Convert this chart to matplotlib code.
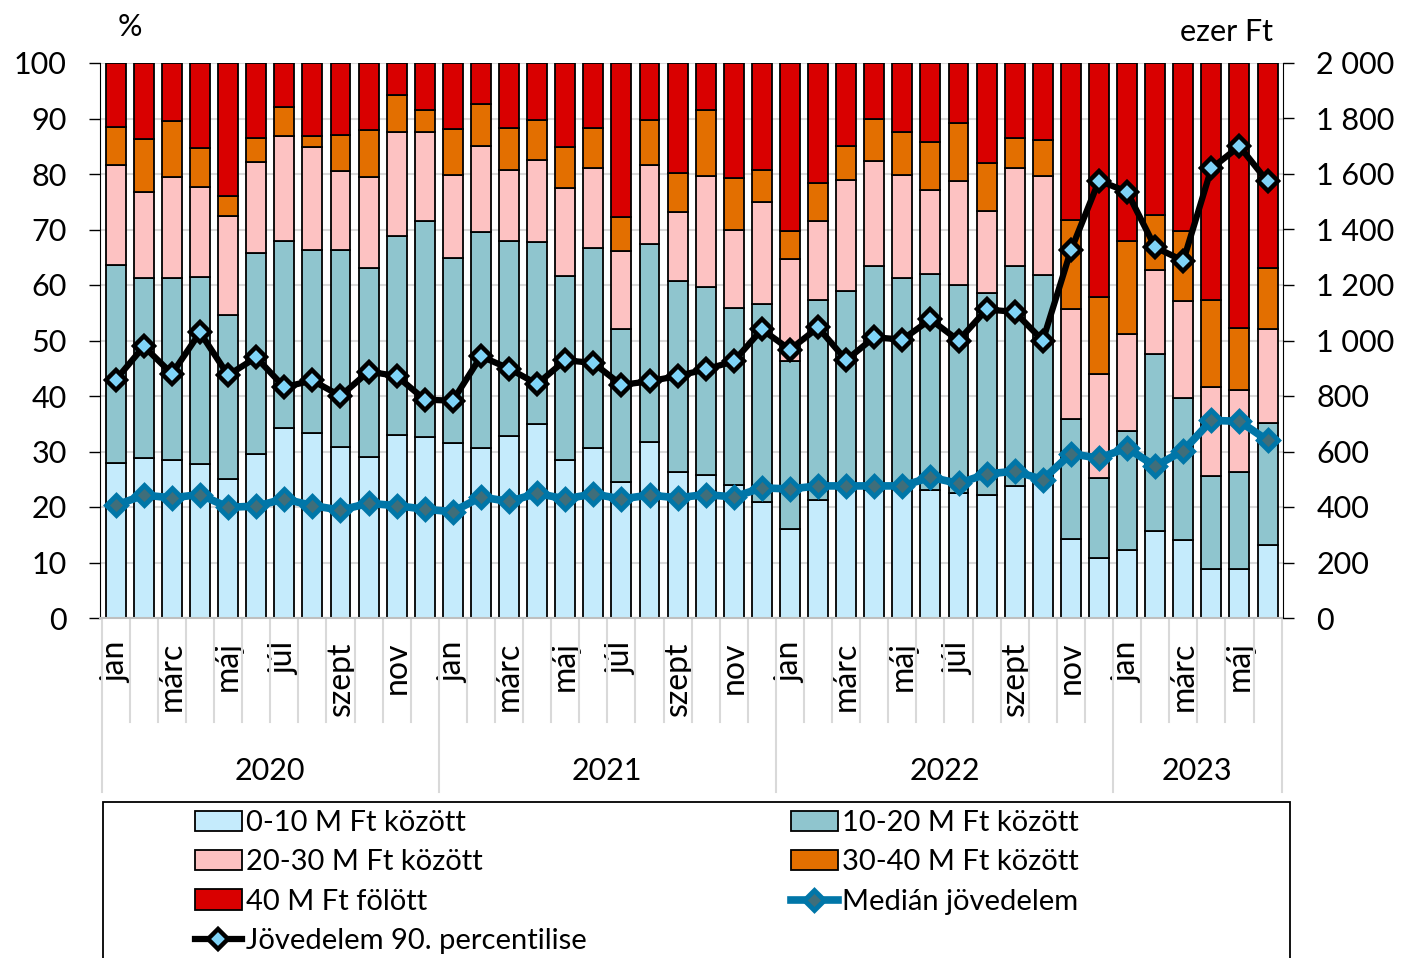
import matplotlib.pyplot as plt
from matplotlib.lines import Line2D
from matplotlib.patches import Patch, Rectangle
import matplotlib.transforms as mtransforms
import numpy as np

plt.rcParams['font.family'] = ['Lato', 'DejaVu Sans']

# data
months = ['jan', 'febr', 'márc', 'ápr', 'máj', 'jún',
          'júl', 'aug', 'szept', 'okt', 'nov', 'dec']
years = ['2020', '2021', '2022', '2023']
months_per_year = [12, 12, 12, 6]

share_0_10 = [27.9, 28.8, 28.5, 27.7, 25.1, 29.5, 34.3, 33.3, 30.9, 29.0, 32.9, 32.6,
              31.5, 30.7, 32.8, 35.0, 28.5, 30.7, 24.5, 31.8, 26.3, 25.7, 23.9, 20.9,
              16.1, 21.3, 23.5, 23.0, 23.2, 23.1, 22.5, 22.1, 23.8, 25.0, 14.3, 10.8,
              12.3, 15.7, 14.0, 8.8, 8.8, 13.1]
share_10_20 = [35.7, 32.5, 32.8, 33.8, 29.5, 36.3, 33.6, 33.0, 35.4, 34.0, 36.0, 38.9,
               33.4, 38.8, 35.1, 32.7, 33.2, 35.9, 27.6, 35.5, 34.4, 34.0, 31.9, 35.6,
               30.2, 36.0, 35.4, 40.5, 38.1, 38.9, 37.5, 36.5, 39.7, 36.8, 21.5, 14.5,
               21.4, 31.9, 25.7, 16.7, 17.5, 22.0]
share_20_30 = [18.0, 15.5, 18.1, 16.1, 17.8, 16.3, 19.0, 18.5, 14.2, 16.5, 18.6, 16.0,
               14.9, 15.6, 12.9, 14.8, 15.7, 14.5, 14.0, 14.3, 12.4, 19.9, 14.1, 18.5,
               18.3, 14.3, 20.1, 18.8, 18.6, 15.1, 18.7, 14.7, 17.6, 17.8, 19.8, 18.6,
               17.4, 15.1, 17.4, 16.2, 14.7, 17.0]
share_30_40 = [6.8, 9.5, 10.1, 7.1, 3.7, 4.3, 5.1, 2.0, 6.6, 8.5, 6.7, 4.1,
               8.3, 7.6, 7.5, 7.2, 7.4, 7.2, 6.2, 8.1, 7.0, 11.9, 9.4, 5.8,
               5.2, 6.7, 6.1, 7.6, 7.6, 8.6, 10.4, 8.6, 5.3, 6.6, 16.2, 13.9,
               16.8, 9.9, 12.6, 15.6, 11.3, 11.0]
share_40_plus = [11.6, 13.7, 10.5, 15.3, 23.9, 13.6, 8.0, 13.2, 12.9, 12.0, 5.8, 8.4,
                 11.9, 7.3, 11.7, 10.3, 15.2, 11.7, 27.7, 10.3, 19.9, 8.5, 20.7, 19.2,
                 30.2, 21.7, 14.9, 10.1, 12.5, 14.3, 10.9, 18.1, 13.6, 13.8, 28.2, 42.2,
                 32.1, 27.4, 30.3, 42.7, 47.7, 36.9]

median_income = [406, 443, 433, 445, 399, 403, 429, 405, 389, 413, 405, 392,
                 383, 436, 420, 449, 429, 447, 429, 443, 433, 445, 436, 469,
                 465, 476, 476, 476, 476, 507, 485, 519, 529, 499, 592, 576,
                 613, 547, 603, 712, 709, 640]
p90_income = [858, 979, 880, 1029, 875, 939, 832, 856, 800, 888, 872, 787,
              783, 943, 899, 843, 929, 919, 840, 853, 872, 896, 925, 1040,
              967, 1047, 929, 1012, 1003, 1076, 1000, 1112, 1103, 1000, 1325, 1576,
              1536, 1336, 1287, 1620, 1700, 1573]

series_names = ['0-10 M Ft között', '10-20 M Ft között', '20-30 M Ft között',
                '30-40 M Ft között', '40 M Ft fölött']
series_colors = ['#c5ebfc', '#8fc5ce', '#fdc2c2', '#e36f00', '#d90000']
median_name = 'Medián jövedelem'
p90_name = 'Jövedelem 90. percentilise'

shares = [share_0_10, share_10_20, share_20_30, share_30_40, share_40_plus]
n = len(share_0_10)
x = np.arange(n)

fig = plt.figure(figsize=(14.04, 9.58), dpi=100)
ax = fig.add_axes([100 / 1404, 1 - 618 / 958, 1183 / 1404, 555 / 958])

bottom = np.zeros(n)
bar_handles = []
for vals, name, col in zip(shares, series_names, series_colors):
    vals = np.array(vals)
    ax.bar(x, vals, 0.71, bottom=bottom, color=col, edgecolor='black', linewidth=1.3)
    bar_handles.append(Patch(facecolor=col, edgecolor='black', linewidth=1.3, label=name))
    bottom += vals

ax.set_xlim(-0.56, n - 0.45)
ax.set_ylim(0, 100)
ax.set_yticks(range(0, 101, 10))
ax.yaxis.grid(True, color='#d9d9d9', linewidth=1.5)
ax.set_axisbelow(True)
ax.tick_params(axis='y', direction='out', length=8, width=1, labelsize=22, pad=16)
ax.set_xticks(x)
ax.set_xticklabels([months[i % 12] if i % 2 == 0 else '' for i in x],
                   rotation=90, fontsize=23)
ax.tick_params(axis='x', length=0, pad=17)
for s in ['top', 'right']:
    ax.spines[s].set_visible(False)
ax.spines['bottom'].set_color('#bfbfbf')
ax.spines['bottom'].set_linewidth(1.5)

ax2 = ax.twinx()
ax2.set_ylim(0, 2000)
ax2.set_yticks(range(0, 2001, 200))
ax2.set_yticklabels([f'{v:,}'.replace(',', ' ') for v in range(0, 2001, 200)])
ax2.tick_params(axis='y', direction='out', length=8, width=1, labelsize=22, pad=16)
for s in ['top', 'left', 'bottom']:
    ax2.spines[s].set_visible(False)

med_style = dict(color='#0076a8', lw=5.5, marker='D', ms=10.5, mfc='#3f6e7a',
                 mec='#0076a8', mew=3.5)
p90_style = dict(color='black', lw=4.5, marker='D', ms=10, mfc='#7fd3f7',
                 mec='black', mew=3.2)
ax2.plot(x, median_income, **med_style)
ax2.plot(x, p90_income, **p90_style)

# category separators and year labels below the axis
trans = mtransforms.blended_transform_factory(ax.transData, ax.transAxes)
year_edges = np.concatenate([[0], np.cumsum(months_per_year)])
for i in range(n + 1):
    y_end = -0.313 if i in year_edges else -0.187
    ax.plot([i - 0.5, i - 0.5], [0, y_end], color='#d9d9d9', lw=1.5,
            transform=trans, clip_on=False)
for k, yr in enumerate(years):
    mid = (year_edges[k] + year_edges[k + 1] - 1) / 2
    ax.text(mid, -0.275, yr, transform=trans, ha='center', va='center', fontsize=22)

fig.text(130 / 1404, 1 - 27 / 958, '%', ha='center', va='center', fontsize=22)
fig.text(1226 / 1404, 1 - 32 / 958, 'ezer Ft', ha='center', va='center', fontsize=22)

# legend
med_handle = Line2D([], [], label=median_name, **med_style)
p90_handle = Line2D([], [], label=p90_name, **p90_style)
handles = [bar_handles[0], bar_handles[2], bar_handles[4], p90_handle,
           bar_handles[1], bar_handles[3], med_handle]
fig.add_artist(Rectangle((103 / 1404, -0.05), 1187 / 1404, 0.05 + 1 - 802 / 958,
                         transform=fig.transFigure, facecolor='none',
                         edgecolor='black', linewidth=1.3))
fig.legend(handles=handles, loc='upper left', bbox_to_anchor=(195 / 1404, 1 - 810 / 958),
           ncol=2, frameon=False, fontsize=21, borderpad=0, borderaxespad=0,
           handlelength=1.6, handletextpad=0.15, labelspacing=0.46, columnspacing=7.0)

fig.savefig('out.png', dpi=100)
